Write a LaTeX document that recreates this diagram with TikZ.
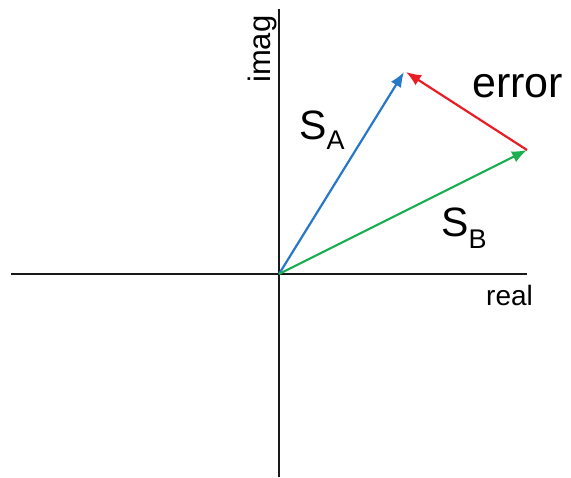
\documentclass[tikz,border=0pt]{standalone}
\usepackage{fontspec}
\setmainfont{Liberation Sans}
\usetikzlibrary{arrows.meta}
\definecolor{vblue}{RGB}{40,120,200}
\definecolor{vred}{RGB}{232,30,36}
\definecolor{vgreen}{RGB}{30,175,80}
\definecolor{axisc}{RGB}{25,25,25}
\tikzset{
  axisline/.style={draw=axisc, line width=2.5pt},
  vec/.style={line width=2.2pt, -{Latex[length=15pt,width=12pt]}},
  lbl/.style={inner sep=0pt, anchor=base west, text=black},
}
\begin{document}
\begin{tikzpicture}[x=1pt,y=-1pt]
\useasboundingbox (0,0) rectangle (571,478);
\coordinate (O) at (279,274);
\coordinate (L) at (11,274);
\coordinate (R) at (527,274);
\coordinate (T) at (279,9);
\coordinate (D) at (279,477);
\coordinate (A) at (404,72);
\coordinate (B) at (527,150);
\draw[axisline] (L) -- (R);
\draw[axisline] (T) -- (D);
\draw[vec, vblue] (O) -- (A);
\draw[vec, vgreen] (O) -- (B);
\draw[vec, vred] (B) -- ([xshift=2pt]A);
\node[lbl] (err) at (472,98) {\fontsize{43}{50}\selectfont error};
\node[lbl] (sa) at (299,140) {\fontsize{41}{48}\selectfont S\raisebox{-10pt}{\fontsize{27}{30}\selectfont A}};
\node[lbl] (sb) at (441,237) {\fontsize{41}{48}\selectfont S\raisebox{-12pt}{\fontsize{27}{30}\selectfont B}};
\node[inner sep=0pt, rotate=90, anchor=base west] (im) at (270,83) {\fontsize{31}{36}\selectfont imag};
\node[lbl] (re) at (486,306) {\fontsize{28}{34}\selectfont real};
\end{tikzpicture}
\end{document}
